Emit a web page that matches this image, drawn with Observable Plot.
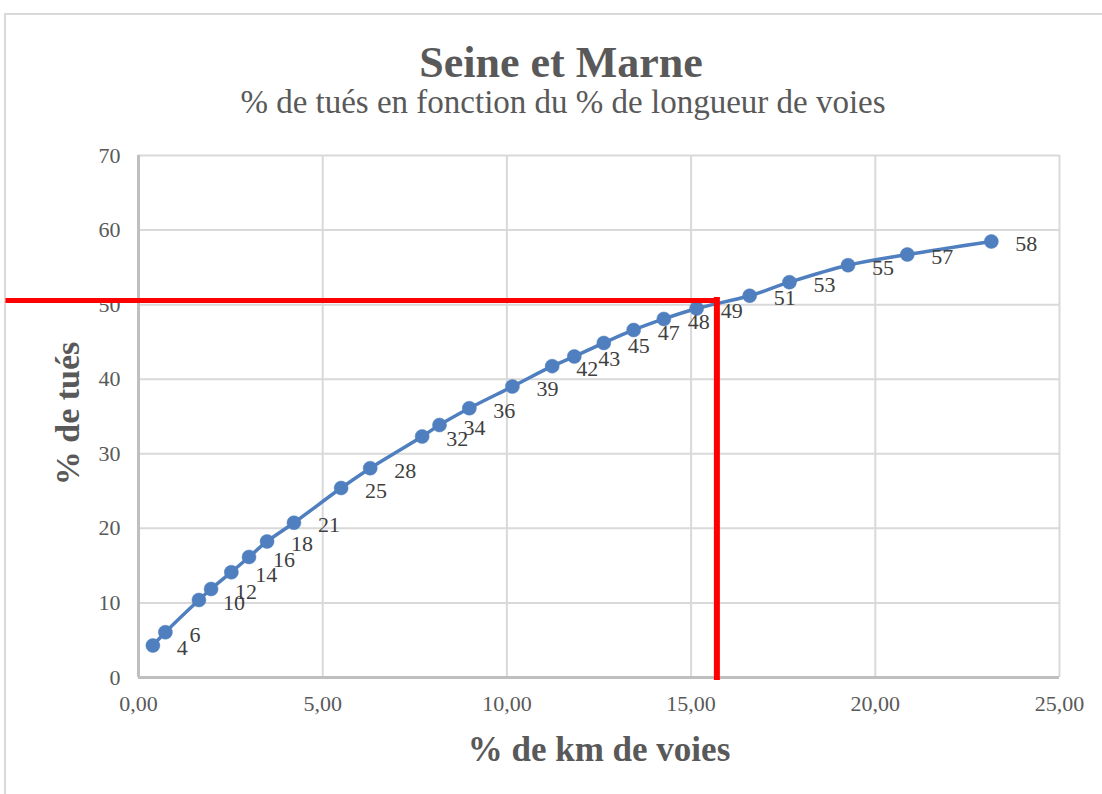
<!DOCTYPE html>
<html>
<head>
<meta charset="utf-8">
<script src="https://cdn.jsdelivr.net/npm/d3@7"></script>
<script src="https://cdn.jsdelivr.net/npm/@observablehq/plot@0.6"></script>
<style>
  html, body { margin: 0; padding: 0; background: #fff; overflow: hidden; }
  body { width: 1102px; height: 794px; position: relative; font-family: "Liberation Serif", serif; color: #595959; }
  #frame { position: absolute; left: 4px; top: 13px; width: 1116px; height: 820px; border: 2px solid #d9d9d9; box-sizing: border-box; }
  #title { position: absolute; left: 0; top: 41px; width: 1122px; text-align: center; font-size: 44px; line-height: 44px; font-weight: bold; white-space: nowrap; }
  #subtitle { position: absolute; left: 0; top: 86px; width: 1126px; text-align: center; font-size: 33px; line-height: 33px; white-space: nowrap; }
  #chart { position: absolute; left: 0; top: 125px; }
</style>
</head>
<body>
<div id="frame"></div>
<div id="title">Seine et Marne</div>
<div id="subtitle">% de tués en fonction du % de longueur de voies</div>
<div id="chart"></div>
<script>
// Data
const kmVoies = [0.39, 0.73, 1.64, 1.97, 2.52, 3.00, 3.49, 4.22, 5.50, 6.29, 7.70, 8.17, 8.98, 10.15, 11.23, 11.83, 12.63, 13.44, 14.26, 15.15, 16.59, 17.67, 19.26, 20.87, 23.15];
const tues    = [4.29, 6.07, 10.39, 11.87, 14.12, 16.16, 18.24, 20.75, 25.41, 28.07, 32.32, 33.86, 36.11, 39.02, 41.75, 43.05, 44.86, 46.60, 48.08, 49.48, 51.19, 53.01, 55.29, 56.72, 58.47];
const pointLabels = ["4","6","10","12","14","16","18","21","25","28","32","34","36","39","42","43","45","47","48","49","51","53","55","57","58"];
const xTicks = [0, 5, 10, 15, 20, 25];
const yTicks = [0, 10, 20, 30, 40, 50, 60, 70];
// red reading guide (annotation)
const guideX = [15.70];
const guideY = [50.56];
const guideLeftX = [-3.53];

const data = kmVoies.map((x, i) => ({x, y: tues[i], label: pointLabels[i]}));
const blue = "#4f7fbf";
const grey = "#595959";

const chart = Plot.plot({
  width: 1102,
  height: 669,
  marginTop: 30,
  marginBottom: 117,
  marginLeft: 138,
  marginRight: 43,
  style: {fontFamily: "Liberation Serif, serif", color: grey, background: "transparent", overflow: "visible"},
  x: {domain: [0, 25], label: null},
  y: {domain: [0, 70], label: null},
  marks: [
    Plot.ruleX(xTicks, {stroke: "#d9d9d9", strokeWidth: 2}),
    Plot.ruleY(yTicks, {stroke: "#d9d9d9", strokeWidth: 2}),
    Plot.ruleX([0], {stroke: "#bfbfbf", strokeWidth: 3}),
    Plot.ruleY([0], {stroke: "#bfbfbf", strokeWidth: 3}),
    Plot.axisY(yTicks, {tickSize: 0, tickPadding: 18, fontSize: 22, fill: grey, label: null}),
    Plot.axisX(xTicks, {tickSize: 0, tickPadding: 18, fontSize: 22, fill: grey, label: null,
      tickFormat: d => d.toFixed(2).replace(".", ",")}),
    Plot.line(data, {x: "x", y: "y", stroke: blue, strokeWidth: 3.5, curve: "catmull-rom"}),
    Plot.dot(data, {x: "x", y: "y", r: 7, fill: blue, stroke: blue, strokeWidth: 0.5}),
    Plot.text(data, {x: "x", y: "y", text: "label", dx: 24, dy: 2.5, textAnchor: "start", lineAnchor: "middle", fontSize: 22, fill: "#404040"}),
    Plot.ruleY(guideY, {x1: guideLeftX[0], x2: guideX[0], stroke: "#ff0000", strokeWidth: 5, strokeLinecap: "square", clip: false}),
    Plot.ruleX(guideX, {y1: 0, y2: guideY[0], stroke: "#ff0000", strokeWidth: 6, strokeLinecap: "square"}),
    Plot.text(["% de tués"], {frameAnchor: "left", dx: -70, dy: -3, rotate: -90, fontSize: 34, fontWeight: "bold", fill: grey, textAnchor: "middle", lineAnchor: "middle"}),
    Plot.text(["% de km de voies"], {frameAnchor: "bottom", dy: 72, fontSize: 35, fontWeight: "bold", fill: grey, textAnchor: "middle", lineAnchor: "middle"})
  ]
});
document.getElementById("chart").appendChild(chart);
</script>
</body>
</html>
